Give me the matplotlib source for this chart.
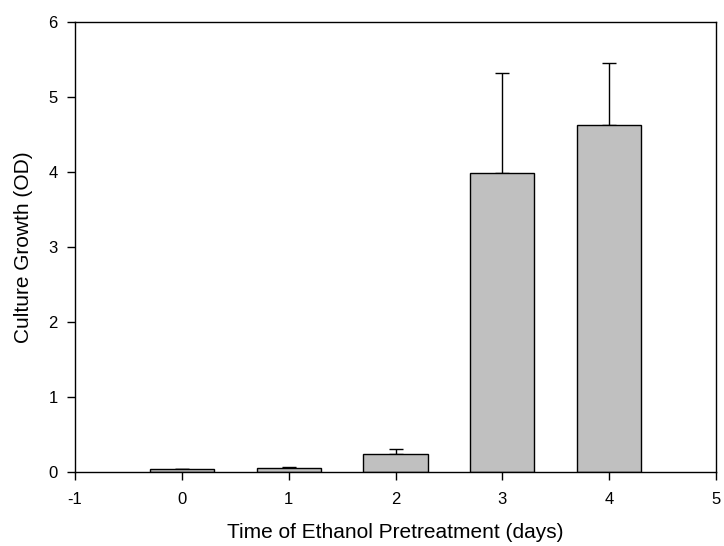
import matplotlib
matplotlib.use('Agg')
import matplotlib.pyplot as plt

plt.rcParams['font.family'] = ['Liberation Sans', 'DejaVu Sans']
plt.rcParams['axes.unicode_minus'] = False

# pretreatment time (days), mean OD and upper error
days = [0, 1, 2, 3, 4]
growth = [0.03, 0.043, 0.23, 3.985, 4.62]
err = [0.006, 0.013, 0.07, 1.335, 0.83]

fig = plt.figure(figsize=(7.24, 5.46), dpi=100)
ax = fig.add_axes([75 / 724, 1 - 471.5 / 546, 641 / 724, 449.5 / 546])

ax.bar(days, growth, width=0.6, color='#c0c0c0', edgecolor='black', linewidth=1.0, zorder=2)
ax.errorbar(days, growth, yerr=[[0] * len(err), err], fmt='none', ecolor='black',
            elinewidth=1.0, capsize=4.7, capthick=1.0, zorder=1)

ax.set_xlim(-1, 5)
ax.set_ylim(0, 6)
ax.set_xticks(range(-1, 6))
ax.set_yticks(range(0, 7))
ax.tick_params(direction='out', length=6, width=1, labelsize=12)
ax.tick_params(axis='x', pad=9)
ax.tick_params(axis='y', pad=6.5)
for s in ax.spines.values():
    s.set_linewidth(1.0)

ax.set_xlabel('Time of Ethanol Pretreatment (days)', fontsize=15)
ax.set_ylabel('Culture Growth (OD)', fontsize=15)
ax.xaxis.set_label_coords(0.5, -0.115)
ax.yaxis.set_label_coords(-0.065, 0.5)

fig.savefig('out.png', dpi=100)
